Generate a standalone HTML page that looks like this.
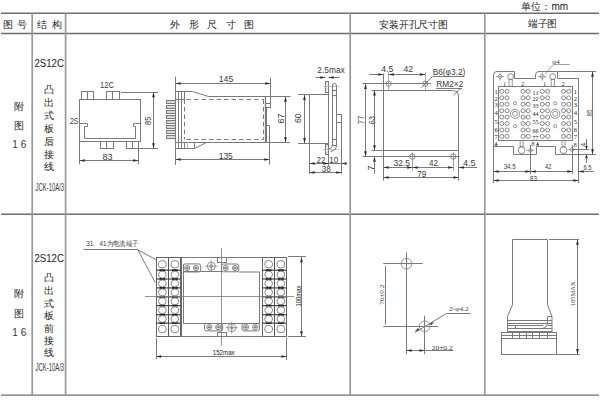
<!DOCTYPE html>
<html><head><meta charset="utf-8"><style>
html,body{margin:0;padding:0;background:#fff;width:600px;height:400px;overflow:hidden}
svg{display:block}
</style></head><body>
<svg width="600" height="400" viewBox="0 0 600 400" style="font-family:'Liberation Sans', sans-serif">
<line x1="1" y1="13.2" x2="599" y2="13.2" stroke="#6e6e6e" stroke-width="1.4"/>
<line x1="1" y1="33.5" x2="599" y2="33.5" stroke="#6e6e6e" stroke-width="1.4"/>
<line x1="1" y1="214.2" x2="599" y2="214.2" stroke="#6e6e6e" stroke-width="1.4"/>
<line x1="1" y1="395.1" x2="599" y2="395.1" stroke="#6e6e6e" stroke-width="1.4"/>
<line x1="32.2" y1="13.2" x2="32.2" y2="395.1" stroke="#999" stroke-width="1.7"/>
<line x1="65.6" y1="13.2" x2="65.6" y2="395.1" stroke="#999" stroke-width="1.7"/>
<line x1="350.2" y1="13.2" x2="350.2" y2="395.1" stroke="#999" stroke-width="1.7"/>
<line x1="484.8" y1="13.2" x2="484.8" y2="395.1" stroke="#999" stroke-width="1.7"/>
<text x="14.9" y="24.3" font-size="9.6" text-anchor="middle" dominant-baseline="central" fill="#222" font-family='"Liberation Sans", sans-serif' textLength="23.5" lengthAdjust="spacing" font-weight="500">图号</text>
<text x="49.3" y="24.3" font-size="9.6" text-anchor="middle" dominant-baseline="central" fill="#222" font-family='"Liberation Sans", sans-serif' textLength="24.5" lengthAdjust="spacing" font-weight="500">结构</text>
<text x="212.2" y="24.3" font-size="10" text-anchor="middle" dominant-baseline="central" fill="#222" font-family='"Liberation Sans", sans-serif' textLength="84" lengthAdjust="spacing" font-weight="500">外形尺寸图</text>
<text x="413.5" y="24" font-size="10" text-anchor="middle" dominant-baseline="central" fill="#222" font-family='"Liberation Sans", sans-serif' textLength="69" lengthAdjust="spacingAndGlyphs" font-weight="500">安装开孔尺寸图</text>
<text x="542.6" y="23.9" font-size="10" text-anchor="middle" dominant-baseline="central" fill="#222" font-family='"Liberation Sans", sans-serif' textLength="29.3" lengthAdjust="spacingAndGlyphs" font-weight="500">端子图</text>
<text x="544.7" y="6.4" font-size="10" text-anchor="middle" dominant-baseline="central" fill="#222" font-family='"Liberation Sans", sans-serif' textLength="47" lengthAdjust="spacingAndGlyphs" font-weight="500">单位：mm</text>
<text x="49.2" y="62.8" font-size="10.5" text-anchor="middle" dominant-baseline="central" fill="#222" font-family='"Liberation Sans", sans-serif' textLength="29.5" lengthAdjust="spacingAndGlyphs">2S12C</text>
<text x="19.25" y="106.25" font-size="10" text-anchor="middle" dominant-baseline="central" fill="#222" font-family='"Liberation Sans", sans-serif' font-weight="500">附</text>
<text x="19.25" y="125.4" font-size="10" text-anchor="middle" dominant-baseline="central" fill="#222" font-family='"Liberation Sans", sans-serif' font-weight="500">图</text>
<text x="19.25" y="144.1" font-size="11.5" text-anchor="middle" dominant-baseline="central" fill="#3a3a3a" font-family='"Liberation Sans", sans-serif' textLength="14" lengthAdjust="spacingAndGlyphs">1 6</text>
<text x="49.2" y="89.5" font-size="9.6" text-anchor="middle" dominant-baseline="central" fill="#222" font-family='"Liberation Sans", sans-serif' font-weight="500">凸</text>
<text x="49.2" y="102.25" font-size="9.6" text-anchor="middle" dominant-baseline="central" fill="#222" font-family='"Liberation Sans", sans-serif' font-weight="500">出</text>
<text x="49.2" y="115" font-size="9.6" text-anchor="middle" dominant-baseline="central" fill="#222" font-family='"Liberation Sans", sans-serif' font-weight="500">式</text>
<text x="49.2" y="128.4" font-size="9.6" text-anchor="middle" dominant-baseline="central" fill="#222" font-family='"Liberation Sans", sans-serif' font-weight="500">板</text>
<text x="49.2" y="141.3" font-size="9.6" text-anchor="middle" dominant-baseline="central" fill="#222" font-family='"Liberation Sans", sans-serif' font-weight="500">后</text>
<text x="49.2" y="154.2" font-size="9.6" text-anchor="middle" dominant-baseline="central" fill="#222" font-family='"Liberation Sans", sans-serif' font-weight="500">接</text>
<text x="49.2" y="166.9" font-size="9.6" text-anchor="middle" dominant-baseline="central" fill="#222" font-family='"Liberation Sans", sans-serif' font-weight="500">线</text>
<text x="49.8" y="187.4" font-size="10.2" text-anchor="middle" dominant-baseline="central" fill="#3a3a3a" font-family='"Liberation Sans", sans-serif' textLength="28.5" lengthAdjust="spacingAndGlyphs">JCK-10A/3</text>
<text x="49.2" y="257.7" font-size="10.5" text-anchor="middle" dominant-baseline="central" fill="#222" font-family='"Liberation Sans", sans-serif' textLength="29.5" lengthAdjust="spacingAndGlyphs">2S12C</text>
<text x="19.25" y="293.9" font-size="10" text-anchor="middle" dominant-baseline="central" fill="#222" font-family='"Liberation Sans", sans-serif' font-weight="500">附</text>
<text x="19.25" y="313" font-size="10" text-anchor="middle" dominant-baseline="central" fill="#222" font-family='"Liberation Sans", sans-serif' font-weight="500">图</text>
<text x="19.25" y="332.1" font-size="11.5" text-anchor="middle" dominant-baseline="central" fill="#3a3a3a" font-family='"Liberation Sans", sans-serif' textLength="14" lengthAdjust="spacingAndGlyphs">1 6</text>
<text x="49.2" y="277" font-size="9.6" text-anchor="middle" dominant-baseline="central" fill="#222" font-family='"Liberation Sans", sans-serif' font-weight="500">凸</text>
<text x="49.2" y="290.1" font-size="9.6" text-anchor="middle" dominant-baseline="central" fill="#222" font-family='"Liberation Sans", sans-serif' font-weight="500">出</text>
<text x="49.2" y="303" font-size="9.6" text-anchor="middle" dominant-baseline="central" fill="#222" font-family='"Liberation Sans", sans-serif' font-weight="500">式</text>
<text x="49.2" y="315.4" font-size="9.6" text-anchor="middle" dominant-baseline="central" fill="#222" font-family='"Liberation Sans", sans-serif' font-weight="500">板</text>
<text x="49.2" y="328" font-size="9.6" text-anchor="middle" dominant-baseline="central" fill="#222" font-family='"Liberation Sans", sans-serif' font-weight="500">前</text>
<text x="49.2" y="340.5" font-size="9.6" text-anchor="middle" dominant-baseline="central" fill="#222" font-family='"Liberation Sans", sans-serif' font-weight="500">接</text>
<text x="49.2" y="352.9" font-size="9.6" text-anchor="middle" dominant-baseline="central" fill="#222" font-family='"Liberation Sans", sans-serif' font-weight="500">线</text>
<text x="49.8" y="367.9" font-size="10.2" text-anchor="middle" dominant-baseline="central" fill="#3a3a3a" font-family='"Liberation Sans", sans-serif' textLength="28.5" lengthAdjust="spacingAndGlyphs">JCK-10A/3</text>
<rect x="79.5" y="99.5" width="61.00" height="42.00" fill="none" stroke="#7a7a7a" stroke-width="1"/>
<rect x="81.5" y="91.5" width="12.00" height="8.00" fill="none" stroke="#7a7a7a" stroke-width="1"/>
<line x1="87.5" y1="91.9" x2="87.5" y2="99.4" stroke="#7a7a7a" stroke-width="1"/>
<rect x="106.5" y="91.5" width="13.00" height="8.00" fill="none" stroke="#7a7a7a" stroke-width="1"/>
<line x1="112.5" y1="91.9" x2="112.5" y2="99.4" stroke="#7a7a7a" stroke-width="1"/>
<rect x="100.5" y="141.5" width="13.00" height="7.00" fill="none" stroke="#7a7a7a" stroke-width="1"/>
<line x1="106.5" y1="141.5" x2="106.5" y2="148.6" stroke="#7a7a7a" stroke-width="1"/>
<rect x="126.5" y="141.5" width="12.00" height="7.00" fill="none" stroke="#7a7a7a" stroke-width="1"/>
<line x1="132.5" y1="141.5" x2="132.5" y2="148.6" stroke="#7a7a7a" stroke-width="1"/>
<polyline points="79.5,123.5 87.5,123.5 87.5,126.5 84.5,126.5 84.5,138.5 135.5,138.5 135.5,126.5 133.5,126.5 133.5,123.5 140.5,123.5" fill="none" stroke="#7a7a7a" stroke-width="1"/>
<line x1="121" y1="92.5" x2="158" y2="92.5" stroke="#7a7a7a" stroke-width="1"/>
<line x1="139.4" y1="148.5" x2="158" y2="148.5" stroke="#7a7a7a" stroke-width="1"/>
<line x1="153.5" y1="92" x2="153.5" y2="148.5" stroke="#7a7a7a" stroke-width="1"/>
<polygon points="153.50,92.00 152.15,97.20 154.85,97.20" fill="#2a2a2a"/>
<polygon points="153.50,148.50 152.15,143.30 154.85,143.30" fill="#2a2a2a"/>
<text x="148.1" y="120.8" font-size="8.5" text-anchor="middle" dominant-baseline="central" fill="#3a3a3a" font-family='"Liberation Sans", sans-serif' transform="rotate(-90 148.1 120.8)" textLength="8.2" lengthAdjust="spacingAndGlyphs">85</text>
<line x1="79.5" y1="141.5" x2="79.5" y2="164.4" stroke="#7a7a7a" stroke-width="1"/>
<line x1="138.5" y1="148.6" x2="138.5" y2="164.4" stroke="#7a7a7a" stroke-width="1"/>
<line x1="79.6" y1="160.5" x2="138.4" y2="160.5" stroke="#7a7a7a" stroke-width="1"/>
<polygon points="79.60,160.50 84.80,159.15 84.80,161.85" fill="#2a2a2a"/>
<polygon points="138.40,160.50 133.20,159.15 133.20,161.85" fill="#2a2a2a"/>
<text x="107.4" y="157" font-size="9" text-anchor="middle" dominant-baseline="central" fill="#3a3a3a" font-family='"Liberation Sans", sans-serif'>83</text>
<text x="107.1" y="85.4" font-size="8.5" text-anchor="middle" dominant-baseline="central" fill="#3a3a3a" font-family='"Liberation Sans", sans-serif' textLength="14" lengthAdjust="spacingAndGlyphs">12C</text>
<text x="74.2" y="121.4" font-size="8.5" text-anchor="middle" dominant-baseline="central" fill="#3a3a3a" font-family='"Liberation Sans", sans-serif' textLength="8.5" lengthAdjust="spacingAndGlyphs">2S</text>
<line x1="175.5" y1="76.7" x2="175.5" y2="91.4" stroke="#7a7a7a" stroke-width="1"/>
<line x1="270.5" y1="77.7" x2="270.5" y2="97" stroke="#7a7a7a" stroke-width="1"/>
<line x1="175.5" y1="83.5" x2="270.5" y2="83.5" stroke="#7a7a7a" stroke-width="1"/>
<polygon points="175.50,83.50 180.70,82.15 180.70,84.85" fill="#2a2a2a"/>
<polygon points="270.50,83.50 265.30,82.15 265.30,84.85" fill="#2a2a2a"/>
<text x="226" y="78.5" font-size="9" text-anchor="middle" dominant-baseline="central" fill="#3a3a3a" font-family='"Liberation Sans", sans-serif' textLength="14.5" lengthAdjust="spacingAndGlyphs">145</text>
<line x1="175.5" y1="91.4" x2="175.5" y2="148.5" stroke="#7a7a7a" stroke-width="1"/>
<line x1="178.5" y1="91.4" x2="178.5" y2="148.5" stroke="#7a7a7a" stroke-width="1"/>
<line x1="181.5" y1="91.4" x2="181.5" y2="148.5" stroke="#7a7a7a" stroke-width="1"/>
<line x1="184.5" y1="91.4" x2="184.5" y2="99.5" stroke="#7a7a7a" stroke-width="1"/>
<line x1="184.5" y1="99.5" x2="184.5" y2="139.5" stroke="#7a7a7a" stroke-width="1" stroke-dasharray="4.5,3"/>
<line x1="184.5" y1="142.2" x2="184.5" y2="148.5" stroke="#7a7a7a" stroke-width="1"/>
<polyline points="175.5,91.5 192.5,91.5 208.5,96.5 290.5,96.5" fill="none" stroke="#7a7a7a" stroke-width="1"/>
<line x1="175.4" y1="99.5" x2="184.6" y2="99.5" stroke="#7a7a7a" stroke-width="1"/>
<line x1="186.5" y1="99.5" x2="263.5" y2="99.5" stroke="#7a7a7a" stroke-width="1" stroke-dasharray="4.5,3"/>
<line x1="186.5" y1="139.5" x2="263.5" y2="139.5" stroke="#7a7a7a" stroke-width="1" stroke-dasharray="4.5,3"/>
<line x1="263.5" y1="99.5" x2="263.5" y2="139.5" stroke="#7a7a7a" stroke-width="1" stroke-dasharray="4.5,3"/>
<rect x="166.5" y="100.5" width="9.00" height="3.00" fill="#d8d8d8" stroke="#7a7a7a" stroke-width="1"/>
<rect x="166.5" y="105.5" width="9.00" height="3.00" fill="#d8d8d8" stroke="#7a7a7a" stroke-width="1"/>
<rect x="166.5" y="110.5" width="9.00" height="3.00" fill="#d8d8d8" stroke="#7a7a7a" stroke-width="1"/>
<rect x="166.5" y="115.5" width="9.00" height="3.00" fill="#d8d8d8" stroke="#7a7a7a" stroke-width="1"/>
<rect x="166.5" y="120.5" width="9.00" height="3.00" fill="#d8d8d8" stroke="#7a7a7a" stroke-width="1"/>
<rect x="166.5" y="125.5" width="9.00" height="3.00" fill="#d8d8d8" stroke="#7a7a7a" stroke-width="1"/>
<rect x="166.5" y="130.5" width="9.00" height="3.00" fill="#d8d8d8" stroke="#7a7a7a" stroke-width="1"/>
<rect x="166.5" y="135.5" width="9.00" height="3.00" fill="#d8d8d8" stroke="#7a7a7a" stroke-width="1"/>
<line x1="175.4" y1="142.5" x2="290" y2="142.5" stroke="#7a7a7a" stroke-width="1"/>
<polyline points="175.5,148.5 194.5,148.5 194.5,142.5" fill="none" stroke="#7a7a7a" stroke-width="1"/>
<line x1="194.8" y1="148.4" x2="206.3" y2="142.5" stroke="#7a7a7a" stroke-width="1"/>
<line x1="187.5" y1="142.2" x2="187.5" y2="148.4" stroke="#bbb" stroke-width="1"/>
<rect x="265.5" y="96.5" width="5.00" height="11.00" fill="none" stroke="#7a7a7a" stroke-width="1"/>
<line x1="265.5" y1="103.5" x2="270.7" y2="103.5" stroke="#7a7a7a" stroke-width="1"/>
<line x1="265.5" y1="96.6" x2="265.5" y2="142.5" stroke="#7a7a7a" stroke-width="1.3"/>
<line x1="266.5" y1="107.3" x2="266.5" y2="142.5" stroke="#7a7a7a" stroke-width="1"/>
<polyline points="266.5,125.5 269.5,125.5 269.5,142.5" fill="none" stroke="#7a7a7a" stroke-width="1"/>
<line x1="269.5" y1="142.5" x2="269.5" y2="164.7" stroke="#7a7a7a" stroke-width="1"/>
<line x1="175.5" y1="148.5" x2="175.5" y2="165" stroke="#7a7a7a" stroke-width="1"/>
<line x1="175.5" y1="159.5" x2="269.5" y2="159.5" stroke="#7a7a7a" stroke-width="1"/>
<polygon points="175.50,159.50 180.70,158.15 180.70,160.85" fill="#2a2a2a"/>
<polygon points="269.50,159.50 264.30,158.15 264.30,160.85" fill="#2a2a2a"/>
<text x="225.8" y="155.9" font-size="9" text-anchor="middle" dominant-baseline="central" fill="#3a3a3a" font-family='"Liberation Sans", sans-serif' textLength="14" lengthAdjust="spacingAndGlyphs">135</text>
<line x1="285.5" y1="96.6" x2="285.5" y2="142.5" stroke="#7a7a7a" stroke-width="1"/>
<polygon points="285.50,96.60 284.15,101.80 286.85,101.80" fill="#2a2a2a"/>
<polygon points="285.50,142.50 284.15,137.30 286.85,137.30" fill="#2a2a2a"/>
<text x="280.5" y="118.5" font-size="9" text-anchor="middle" dominant-baseline="central" fill="#3a3a3a" font-family='"Liberation Sans", sans-serif' transform="rotate(-90 280.5 118.5)">67</text>
<text x="331" y="70" font-size="9" text-anchor="middle" dominant-baseline="central" fill="#3a3a3a" font-family='"Liberation Sans", sans-serif' textLength="27.5" lengthAdjust="spacingAndGlyphs">2.5max</text>
<line x1="315.5" y1="77.5" x2="325.2" y2="77.5" stroke="#7a7a7a" stroke-width="1"/>
<polygon points="325.50,77.50 320.30,76.15 320.30,78.85" fill="#2a2a2a"/>
<line x1="328.4" y1="77.5" x2="339.5" y2="77.5" stroke="#7a7a7a" stroke-width="1"/>
<polygon points="328.50,77.50 333.70,76.15 333.70,78.85" fill="#2a2a2a"/>
<polyline points="328.5,94.5 309.5,94.5 309.5,143.5 328.5,143.5" fill="none" stroke="#7a7a7a" stroke-width="1"/>
<line x1="328.5" y1="81" x2="328.5" y2="155" stroke="#7a7a7a" stroke-width="1"/>
<rect x="325.5" y="81.5" width="3.00" height="11.00" fill="none" stroke="#7a7a7a" stroke-width="1"/>
<rect x="325.5" y="144.5" width="3.00" height="10.00" fill="none" stroke="#7a7a7a" stroke-width="1"/>
<line x1="326" y1="84" x2="328" y2="82.5" stroke="#999" stroke-width="0.6"/>
<line x1="326" y1="87" x2="328" y2="85.5" stroke="#999" stroke-width="0.6"/>
<line x1="326" y1="90" x2="328" y2="88.5" stroke="#999" stroke-width="0.6"/>
<line x1="326" y1="147" x2="328" y2="145.5" stroke="#999" stroke-width="0.6"/>
<line x1="326" y1="150" x2="328" y2="148.5" stroke="#999" stroke-width="0.6"/>
<line x1="326" y1="153" x2="328" y2="151.5" stroke="#999" stroke-width="0.6"/>
<line x1="323.2" y1="86.5" x2="339" y2="86.5" stroke="#aaa" stroke-width="0.7"/>
<line x1="323.2" y1="149.5" x2="339" y2="149.5" stroke="#aaa" stroke-width="0.7"/>
<path d="M332.5,145 V86 Q332.5,83.4 334.3,83.4 Q336.5,83.4 336.5,86 V145 Q336.5,150.5 330.5,151.5 M332.5,145 Q332.5,148.5 328.5,149" fill="none" stroke="#7a7a7a" stroke-width="1"/>
<line x1="332.5" y1="90.5" x2="336.5" y2="90.5" stroke="#7a7a7a" stroke-width="1.2"/>
<line x1="332.5" y1="95.5" x2="336.5" y2="95.5" stroke="#7a7a7a" stroke-width="1.2"/>
<line x1="332.5" y1="139.5" x2="336.5" y2="139.5" stroke="#7a7a7a" stroke-width="1.2"/>
<line x1="332.5" y1="145.5" x2="336.5" y2="145.5" stroke="#7a7a7a" stroke-width="1.2"/>
<rect x="336.5" y="114.5" width="5.00" height="8.00" fill="none" stroke="#7a7a7a" stroke-width="1"/>
<line x1="341.5" y1="122" x2="341.5" y2="174" stroke="#7a7a7a" stroke-width="1"/>
<line x1="298.2" y1="94.5" x2="309.5" y2="94.5" stroke="#7a7a7a" stroke-width="1"/>
<line x1="298.2" y1="143.5" x2="309.5" y2="143.5" stroke="#7a7a7a" stroke-width="1"/>
<line x1="304.5" y1="94.7" x2="304.5" y2="143.2" stroke="#7a7a7a" stroke-width="1"/>
<polygon points="304.50,94.70 303.15,99.90 305.85,99.90" fill="#2a2a2a"/>
<polygon points="304.50,143.20 303.15,138.00 305.85,138.00" fill="#2a2a2a"/>
<text x="298.1" y="118.2" font-size="9" text-anchor="middle" dominant-baseline="central" fill="#3a3a3a" font-family='"Liberation Sans", sans-serif' transform="rotate(-90 298.1 118.2)" textLength="9.7" lengthAdjust="spacingAndGlyphs">60</text>
<line x1="309.5" y1="143" x2="309.5" y2="174" stroke="#7a7a7a" stroke-width="1"/>
<line x1="328.5" y1="155" x2="328.5" y2="166" stroke="#7a7a7a" stroke-width="1"/>
<line x1="309.5" y1="163.5" x2="328.5" y2="163.5" stroke="#7a7a7a" stroke-width="1"/>
<polygon points="309.50,163.50 314.70,162.15 314.70,164.85" fill="#2a2a2a"/>
<polygon points="328.50,163.50 323.30,162.15 323.30,164.85" fill="#2a2a2a"/>
<line x1="328.5" y1="163.5" x2="346" y2="163.5" stroke="#7a7a7a" stroke-width="1"/>
<polygon points="341.50,163.50 346.70,162.15 346.70,164.85" fill="#2a2a2a"/>
<text x="320.9" y="159.5" font-size="9" text-anchor="middle" dominant-baseline="central" fill="#3a3a3a" font-family='"Liberation Sans", sans-serif' textLength="9" lengthAdjust="spacingAndGlyphs">22</text>
<text x="333.7" y="159.5" font-size="9" text-anchor="middle" dominant-baseline="central" fill="#3a3a3a" font-family='"Liberation Sans", sans-serif' textLength="9" lengthAdjust="spacingAndGlyphs">10</text>
<line x1="309.5" y1="172.5" x2="341.5" y2="172.5" stroke="#7a7a7a" stroke-width="1"/>
<polygon points="309.50,172.50 314.70,171.15 314.70,173.85" fill="#2a2a2a"/>
<polygon points="341.50,172.50 336.30,171.15 336.30,173.85" fill="#2a2a2a"/>
<text x="326.3" y="169.3" font-size="9" text-anchor="middle" dominant-baseline="central" fill="#3a3a3a" font-family='"Liberation Sans", sans-serif' textLength="9" lengthAdjust="spacingAndGlyphs">38</text>
<line x1="383.5" y1="73.5" x2="383.5" y2="180.5" stroke="#7a7a7a" stroke-width="1"/>
<line x1="369.2" y1="74.5" x2="383.5" y2="74.5" stroke="#7a7a7a" stroke-width="1"/>
<polygon points="383.50,74.50 378.30,73.15 378.30,75.85" fill="#2a2a2a"/>
<line x1="388.7" y1="74.5" x2="425.2" y2="74.5" stroke="#7a7a7a" stroke-width="1"/>
<polygon points="388.70,74.50 393.90,73.15 393.90,75.85" fill="#2a2a2a"/>
<polygon points="425.20,74.50 420.00,73.15 420.00,75.85" fill="#2a2a2a"/>
<text x="387.2" y="68.5" font-size="9" text-anchor="middle" dominant-baseline="central" fill="#3a3a3a" font-family='"Liberation Sans", sans-serif' textLength="12" lengthAdjust="spacingAndGlyphs">4.5</text>
<text x="408.2" y="68.5" font-size="9" text-anchor="middle" dominant-baseline="central" fill="#3a3a3a" font-family='"Liberation Sans", sans-serif' textLength="9.5" lengthAdjust="spacingAndGlyphs">42</text>
<line x1="362.5" y1="83.5" x2="431" y2="83.5" stroke="#7a7a7a" stroke-width="1"/>
<circle cx="388.7" cy="83.7" r="2.6" fill="none" stroke="#7a7a7a" stroke-width="0.8"/>
<line x1="388.5" y1="72" x2="388.5" y2="90.4" stroke="#7a7a7a" stroke-width="0.6"/>
<circle cx="425.2" cy="83.7" r="2.6" fill="none" stroke="#7a7a7a" stroke-width="0.8"/>
<line x1="425.5" y1="72" x2="425.5" y2="90.4" stroke="#7a7a7a" stroke-width="0.6"/>
<polyline points="421.5,87.5 432.5,76.5 464.5,76.5" fill="none" stroke="#7a7a7a" stroke-width="1"/>
<text x="449" y="72" font-size="9" text-anchor="middle" dominant-baseline="central" fill="#3a3a3a" font-family='"Liberation Sans", sans-serif' textLength="32.5" lengthAdjust="spacingAndGlyphs">B6(φ3.2)</text>
<text x="449.8" y="83.8" font-size="9" text-anchor="middle" dominant-baseline="central" fill="#3a3a3a" font-family='"Liberation Sans", sans-serif' textLength="27" lengthAdjust="spacingAndGlyphs">RM2×2</text>
<line x1="436" y1="88.5" x2="462" y2="88.5" stroke="#7a7a7a" stroke-width="1"/>
<line x1="461" y1="88.2" x2="453.7" y2="95" stroke="#7a7a7a" stroke-width="1"/>
<path d="M371.5,90.5 H452.5 Q458.5,90.5 458.5,96.5 V150.5 H371.5" fill="none" stroke="#7a7a7a" stroke-width="1"/>
<line x1="365.5" y1="83.7" x2="365.5" y2="156.5" stroke="#7a7a7a" stroke-width="1"/>
<polygon points="365.50,83.70 364.15,88.90 366.85,88.90" fill="#2a2a2a"/>
<polygon points="365.50,156.50 364.15,151.30 366.85,151.30" fill="#2a2a2a"/>
<text x="360.8" y="120" font-size="9" text-anchor="middle" dominant-baseline="central" fill="#3a3a3a" font-family='"Liberation Sans", sans-serif' transform="rotate(-90 360.8 120)" textLength="9" lengthAdjust="spacingAndGlyphs">77</text>
<line x1="374.5" y1="90.4" x2="374.5" y2="150.5" stroke="#7a7a7a" stroke-width="1"/>
<polygon points="374.50,90.40 373.15,95.60 375.85,95.60" fill="#2a2a2a"/>
<polygon points="374.50,150.50 373.15,145.30 375.85,145.30" fill="#2a2a2a"/>
<text x="372" y="120.2" font-size="9" text-anchor="middle" dominant-baseline="central" fill="#3a3a3a" font-family='"Liberation Sans", sans-serif' transform="rotate(-90 372 120.2)" textLength="8.5" lengthAdjust="spacingAndGlyphs">63</text>
<line x1="362.5" y1="156.5" x2="459.7" y2="156.5" stroke="#7a7a7a" stroke-width="1"/>
<circle cx="412.4" cy="156.5" r="2.7" fill="none" stroke="#7a7a7a" stroke-width="0.9"/>
<line x1="412.5" y1="152.5" x2="412.5" y2="171" stroke="#7a7a7a" stroke-width="0.7"/>
<circle cx="453.3" cy="156.5" r="2.7" fill="none" stroke="#7a7a7a" stroke-width="0.9"/>
<line x1="453.5" y1="152.5" x2="453.5" y2="171" stroke="#7a7a7a" stroke-width="0.7"/>
<line x1="374.5" y1="156.5" x2="374.5" y2="173.7" stroke="#7a7a7a" stroke-width="1"/>
<polygon points="374.50,156.50 373.15,161.70 375.85,161.70" fill="#2a2a2a"/>
<text x="370.7" y="168" font-size="9" text-anchor="middle" dominant-baseline="central" fill="#3a3a3a" font-family='"Liberation Sans", sans-serif' transform="rotate(-90 370.7 168)">7</text>
<line x1="383.5" y1="167.5" x2="412.4" y2="167.5" stroke="#7a7a7a" stroke-width="1"/>
<polygon points="383.50,167.50 388.70,166.15 388.70,168.85" fill="#2a2a2a"/>
<polygon points="412.40,167.50 407.20,166.15 407.20,168.85" fill="#2a2a2a"/>
<line x1="412.4" y1="167.5" x2="453.3" y2="167.5" stroke="#7a7a7a" stroke-width="1"/>
<polygon points="412.40,167.50 417.60,166.15 417.60,168.85" fill="#2a2a2a"/>
<polygon points="453.30,167.50 448.10,166.15 448.10,168.85" fill="#2a2a2a"/>
<line x1="458.7" y1="167.5" x2="477" y2="167.5" stroke="#7a7a7a" stroke-width="1"/>
<polygon points="458.70,167.50 463.90,166.15 463.90,168.85" fill="#2a2a2a"/>
<text x="401.7" y="163.1" font-size="9" text-anchor="middle" dominant-baseline="central" fill="#3a3a3a" font-family='"Liberation Sans", sans-serif' textLength="16.5" lengthAdjust="spacingAndGlyphs">32.5</text>
<text x="433.4" y="163.1" font-size="9" text-anchor="middle" dominant-baseline="central" fill="#3a3a3a" font-family='"Liberation Sans", sans-serif' textLength="9" lengthAdjust="spacingAndGlyphs">42</text>
<text x="469.3" y="163.1" font-size="9" text-anchor="middle" dominant-baseline="central" fill="#3a3a3a" font-family='"Liberation Sans", sans-serif' textLength="12.5" lengthAdjust="spacingAndGlyphs">4.5</text>
<line x1="458.5" y1="150.5" x2="458.5" y2="180.5" stroke="#7a7a7a" stroke-width="1"/>
<line x1="383.5" y1="177.5" x2="458.7" y2="177.5" stroke="#7a7a7a" stroke-width="1"/>
<polygon points="383.50,177.50 388.70,176.15 388.70,178.85" fill="#2a2a2a"/>
<polygon points="458.70,177.50 453.50,176.15 453.50,178.85" fill="#2a2a2a"/>
<text x="421.8" y="173.6" font-size="9" text-anchor="middle" dominant-baseline="central" fill="#3a3a3a" font-family='"Liberation Sans", sans-serif' textLength="9" lengthAdjust="spacingAndGlyphs">79</text>
<path d="M493.5,183 V75 Q493.5,71.5 497,71.5 H514.5 V78.5 H535.5 V75 Q535.5,71.5 539,71.5 H557.5 V78.5 H578.5 V183" fill="none" stroke="#7a7a7a" stroke-width="1"/>
<path d="M493.5,146.5 H513.5 V154.5 H536.5 V146.5 H555.5 V154.5 H578.5" fill="none" stroke="#7a7a7a" stroke-width="1"/>
<rect x="498.5" y="86.5" width="74.00" height="54.00" fill="none" stroke="#7a7a7a" stroke-width="1"/>
<path d="M497.5,76.6 L500.1,74.0 L502.70000000000005,76.6 L500.1,79.19999999999999 Z" fill="none" stroke="#7a7a7a" stroke-width="0.8"/>
<line x1="495.90000000000003" y1="76.6" x2="504.3" y2="76.6" stroke="#7a7a7a" stroke-width="0.6"/>
<line x1="500.1" y1="72.39999999999999" x2="500.1" y2="80.8" stroke="#7a7a7a" stroke-width="0.6"/>
<path d="M539.6999999999999,76.6 L542.3,74.0 L544.9,76.6 L542.3,79.19999999999999 Z" fill="none" stroke="#7a7a7a" stroke-width="0.8"/>
<line x1="538.0999999999999" y1="76.6" x2="546.5" y2="76.6" stroke="#7a7a7a" stroke-width="0.6"/>
<line x1="542.3" y1="72.39999999999999" x2="542.3" y2="80.8" stroke="#7a7a7a" stroke-width="0.6"/>
<circle cx="510.6" cy="76.6" r="2.9" fill="none" stroke="#7a7a7a" stroke-width="0.9"/>
<rect x="509.0" y="79.5" width="3.20" height="6.80" fill="none" stroke="#7a7a7a" stroke-width="0.8"/>
<circle cx="552.7" cy="76.6" r="2.9" fill="none" stroke="#7a7a7a" stroke-width="0.9"/>
<rect x="551.1" y="79.5" width="3.20" height="6.80" fill="none" stroke="#7a7a7a" stroke-width="0.8"/>
<circle cx="521.6" cy="150.2" r="3.4" fill="none" stroke="#7a7a7a" stroke-width="0.9"/>
<rect x="520.1" y="140.6" width="3.00" height="6.10" fill="none" stroke="#7a7a7a" stroke-width="0.8"/>
<circle cx="563.5" cy="150.2" r="3.4" fill="none" stroke="#7a7a7a" stroke-width="0.9"/>
<rect x="562.0" y="140.6" width="3.00" height="6.10" fill="none" stroke="#7a7a7a" stroke-width="0.8"/>
<text x="504.5" y="83.5" font-size="6.5" text-anchor="middle" dominant-baseline="central" fill="#3a3a3a" font-family='"Liberation Serif", serif'>1</text>
<text x="522.5" y="83.5" font-size="6.5" text-anchor="middle" dominant-baseline="central" fill="#3a3a3a" font-family='"Liberation Serif", serif'>2</text>
<text x="544.6" y="83.5" font-size="6.5" text-anchor="middle" dominant-baseline="central" fill="#3a3a3a" font-family='"Liberation Serif", serif'>1</text>
<text x="563" y="83.5" font-size="6.5" text-anchor="middle" dominant-baseline="central" fill="#3a3a3a" font-family='"Liberation Serif", serif'>2</text>
<text x="556" y="62.3" font-size="7" text-anchor="middle" dominant-baseline="central" fill="#3a3a3a" font-family='"Liberation Serif", serif'>φ4</text>
<polyline points="545,74.3 553.3,64.5 569.8,64.5" fill="none" stroke="#7a7a7a" stroke-width="0.7"/>
<circle cx="501.8" cy="91.4" r="2.0" fill="none" stroke="#7a7a7a" stroke-width="0.9"/>
<circle cx="507.1" cy="91.4" r="2.0" fill="none" stroke="#7a7a7a" stroke-width="0.9"/>
<circle cx="523" cy="91.4" r="2.0" fill="none" stroke="#7a7a7a" stroke-width="0.9"/>
<circle cx="528.2" cy="91.4" r="2.0" fill="none" stroke="#7a7a7a" stroke-width="0.9"/>
<circle cx="542.2" cy="91.4" r="2.0" fill="none" stroke="#7a7a7a" stroke-width="0.9"/>
<circle cx="547.7" cy="91.4" r="2.0" fill="none" stroke="#7a7a7a" stroke-width="0.9"/>
<circle cx="563.5" cy="91.4" r="2.0" fill="none" stroke="#7a7a7a" stroke-width="0.9"/>
<circle cx="568.8" cy="91.4" r="2.0" fill="none" stroke="#7a7a7a" stroke-width="0.9"/>
<line x1="525" y1="91.4" x2="526.2" y2="91.4" stroke="#7a7a7a" stroke-width="0.8"/>
<line x1="544.2" y1="91.4" x2="545.7" y2="91.4" stroke="#7a7a7a" stroke-width="0.8"/>
<line x1="565.5" y1="91.4" x2="566.8" y2="91.4" stroke="#7a7a7a" stroke-width="0.8"/>
<circle cx="501.8" cy="97.83000000000001" r="2.0" fill="none" stroke="#7a7a7a" stroke-width="0.9"/>
<circle cx="507.1" cy="97.83000000000001" r="2.0" fill="none" stroke="#7a7a7a" stroke-width="0.9"/>
<circle cx="523" cy="97.83000000000001" r="2.0" fill="none" stroke="#7a7a7a" stroke-width="0.9"/>
<circle cx="528.2" cy="97.83000000000001" r="2.0" fill="none" stroke="#7a7a7a" stroke-width="0.9"/>
<circle cx="542.2" cy="97.83000000000001" r="2.0" fill="none" stroke="#7a7a7a" stroke-width="0.9"/>
<circle cx="547.7" cy="97.83000000000001" r="2.0" fill="none" stroke="#7a7a7a" stroke-width="0.9"/>
<circle cx="563.5" cy="97.83000000000001" r="2.0" fill="none" stroke="#7a7a7a" stroke-width="0.9"/>
<circle cx="568.8" cy="97.83000000000001" r="2.0" fill="none" stroke="#7a7a7a" stroke-width="0.9"/>
<line x1="525" y1="97.83000000000001" x2="526.2" y2="97.83000000000001" stroke="#7a7a7a" stroke-width="0.8"/>
<line x1="544.2" y1="97.83000000000001" x2="545.7" y2="97.83000000000001" stroke="#7a7a7a" stroke-width="0.8"/>
<line x1="565.5" y1="97.83000000000001" x2="566.8" y2="97.83000000000001" stroke="#7a7a7a" stroke-width="0.8"/>
<circle cx="501.8" cy="104.26" r="2.0" fill="none" stroke="#7a7a7a" stroke-width="0.9"/>
<circle cx="507.1" cy="104.26" r="2.0" fill="none" stroke="#7a7a7a" stroke-width="0.9"/>
<circle cx="523" cy="104.26" r="2.0" fill="none" stroke="#7a7a7a" stroke-width="0.9"/>
<circle cx="528.2" cy="104.26" r="2.0" fill="none" stroke="#7a7a7a" stroke-width="0.9"/>
<circle cx="542.2" cy="104.26" r="2.0" fill="none" stroke="#7a7a7a" stroke-width="0.9"/>
<circle cx="547.7" cy="104.26" r="2.0" fill="none" stroke="#7a7a7a" stroke-width="0.9"/>
<circle cx="563.5" cy="104.26" r="2.0" fill="none" stroke="#7a7a7a" stroke-width="0.9"/>
<circle cx="568.8" cy="104.26" r="2.0" fill="none" stroke="#7a7a7a" stroke-width="0.9"/>
<line x1="525" y1="104.26" x2="526.2" y2="104.26" stroke="#7a7a7a" stroke-width="0.8"/>
<line x1="544.2" y1="104.26" x2="545.7" y2="104.26" stroke="#7a7a7a" stroke-width="0.8"/>
<line x1="565.5" y1="104.26" x2="566.8" y2="104.26" stroke="#7a7a7a" stroke-width="0.8"/>
<circle cx="501.8" cy="110.69" r="2.0" fill="none" stroke="#7a7a7a" stroke-width="0.9"/>
<circle cx="507.1" cy="110.69" r="2.0" fill="none" stroke="#7a7a7a" stroke-width="0.9"/>
<circle cx="523" cy="110.69" r="2.0" fill="none" stroke="#7a7a7a" stroke-width="0.9"/>
<circle cx="528.2" cy="110.69" r="2.0" fill="none" stroke="#7a7a7a" stroke-width="0.9"/>
<circle cx="542.2" cy="110.69" r="2.0" fill="none" stroke="#7a7a7a" stroke-width="0.9"/>
<circle cx="547.7" cy="110.69" r="2.0" fill="none" stroke="#7a7a7a" stroke-width="0.9"/>
<circle cx="563.5" cy="110.69" r="2.0" fill="none" stroke="#7a7a7a" stroke-width="0.9"/>
<circle cx="568.8" cy="110.69" r="2.0" fill="none" stroke="#7a7a7a" stroke-width="0.9"/>
<line x1="525" y1="110.69" x2="526.2" y2="110.69" stroke="#7a7a7a" stroke-width="0.8"/>
<line x1="544.2" y1="110.69" x2="545.7" y2="110.69" stroke="#7a7a7a" stroke-width="0.8"/>
<line x1="565.5" y1="110.69" x2="566.8" y2="110.69" stroke="#7a7a7a" stroke-width="0.8"/>
<circle cx="501.8" cy="117.12" r="2.0" fill="none" stroke="#7a7a7a" stroke-width="0.9"/>
<circle cx="507.1" cy="117.12" r="2.0" fill="none" stroke="#7a7a7a" stroke-width="0.9"/>
<circle cx="523" cy="117.12" r="2.0" fill="none" stroke="#7a7a7a" stroke-width="0.9"/>
<circle cx="528.2" cy="117.12" r="2.0" fill="none" stroke="#7a7a7a" stroke-width="0.9"/>
<circle cx="542.2" cy="117.12" r="2.0" fill="none" stroke="#7a7a7a" stroke-width="0.9"/>
<circle cx="547.7" cy="117.12" r="2.0" fill="none" stroke="#7a7a7a" stroke-width="0.9"/>
<circle cx="563.5" cy="117.12" r="2.0" fill="none" stroke="#7a7a7a" stroke-width="0.9"/>
<circle cx="568.8" cy="117.12" r="2.0" fill="none" stroke="#7a7a7a" stroke-width="0.9"/>
<line x1="525" y1="117.12" x2="526.2" y2="117.12" stroke="#7a7a7a" stroke-width="0.8"/>
<line x1="544.2" y1="117.12" x2="545.7" y2="117.12" stroke="#7a7a7a" stroke-width="0.8"/>
<line x1="565.5" y1="117.12" x2="566.8" y2="117.12" stroke="#7a7a7a" stroke-width="0.8"/>
<circle cx="501.8" cy="123.55000000000001" r="2.0" fill="none" stroke="#7a7a7a" stroke-width="0.9"/>
<circle cx="507.1" cy="123.55000000000001" r="2.0" fill="none" stroke="#7a7a7a" stroke-width="0.9"/>
<circle cx="523" cy="123.55000000000001" r="2.0" fill="none" stroke="#7a7a7a" stroke-width="0.9"/>
<circle cx="528.2" cy="123.55000000000001" r="2.0" fill="none" stroke="#7a7a7a" stroke-width="0.9"/>
<circle cx="542.2" cy="123.55000000000001" r="2.0" fill="none" stroke="#7a7a7a" stroke-width="0.9"/>
<circle cx="547.7" cy="123.55000000000001" r="2.0" fill="none" stroke="#7a7a7a" stroke-width="0.9"/>
<circle cx="563.5" cy="123.55000000000001" r="2.0" fill="none" stroke="#7a7a7a" stroke-width="0.9"/>
<circle cx="568.8" cy="123.55000000000001" r="2.0" fill="none" stroke="#7a7a7a" stroke-width="0.9"/>
<line x1="525" y1="123.55000000000001" x2="526.2" y2="123.55000000000001" stroke="#7a7a7a" stroke-width="0.8"/>
<line x1="544.2" y1="123.55000000000001" x2="545.7" y2="123.55000000000001" stroke="#7a7a7a" stroke-width="0.8"/>
<line x1="565.5" y1="123.55000000000001" x2="566.8" y2="123.55000000000001" stroke="#7a7a7a" stroke-width="0.8"/>
<circle cx="501.8" cy="129.98000000000002" r="2.0" fill="none" stroke="#7a7a7a" stroke-width="0.9"/>
<circle cx="507.1" cy="129.98000000000002" r="2.0" fill="none" stroke="#7a7a7a" stroke-width="0.9"/>
<circle cx="523" cy="129.98000000000002" r="2.0" fill="none" stroke="#7a7a7a" stroke-width="0.9"/>
<circle cx="528.2" cy="129.98000000000002" r="2.0" fill="none" stroke="#7a7a7a" stroke-width="0.9"/>
<circle cx="542.2" cy="129.98000000000002" r="2.0" fill="none" stroke="#7a7a7a" stroke-width="0.9"/>
<circle cx="547.7" cy="129.98000000000002" r="2.0" fill="none" stroke="#7a7a7a" stroke-width="0.9"/>
<circle cx="563.5" cy="129.98000000000002" r="2.0" fill="none" stroke="#7a7a7a" stroke-width="0.9"/>
<circle cx="568.8" cy="129.98000000000002" r="2.0" fill="none" stroke="#7a7a7a" stroke-width="0.9"/>
<line x1="525" y1="129.98000000000002" x2="526.2" y2="129.98000000000002" stroke="#7a7a7a" stroke-width="0.8"/>
<line x1="544.2" y1="129.98000000000002" x2="545.7" y2="129.98000000000002" stroke="#7a7a7a" stroke-width="0.8"/>
<line x1="565.5" y1="129.98000000000002" x2="566.8" y2="129.98000000000002" stroke="#7a7a7a" stroke-width="0.8"/>
<circle cx="501.8" cy="136.41" r="2.0" fill="none" stroke="#7a7a7a" stroke-width="0.9"/>
<circle cx="507.1" cy="136.41" r="2.0" fill="none" stroke="#7a7a7a" stroke-width="0.9"/>
<circle cx="523" cy="136.41" r="2.0" fill="none" stroke="#7a7a7a" stroke-width="0.9"/>
<circle cx="528.2" cy="136.41" r="2.0" fill="none" stroke="#7a7a7a" stroke-width="0.9"/>
<circle cx="542.2" cy="136.41" r="2.0" fill="none" stroke="#7a7a7a" stroke-width="0.9"/>
<circle cx="547.7" cy="136.41" r="2.0" fill="none" stroke="#7a7a7a" stroke-width="0.9"/>
<circle cx="563.5" cy="136.41" r="2.0" fill="none" stroke="#7a7a7a" stroke-width="0.9"/>
<circle cx="568.8" cy="136.41" r="2.0" fill="none" stroke="#7a7a7a" stroke-width="0.9"/>
<line x1="525" y1="136.41" x2="526.2" y2="136.41" stroke="#7a7a7a" stroke-width="0.8"/>
<line x1="544.2" y1="136.41" x2="545.7" y2="136.41" stroke="#7a7a7a" stroke-width="0.8"/>
<line x1="565.5" y1="136.41" x2="566.8" y2="136.41" stroke="#7a7a7a" stroke-width="0.8"/>
<circle cx="515" cy="103.3" r="1.6" fill="none" stroke="#7a7a7a" stroke-width="0.8"/>
<circle cx="515" cy="126.2" r="1.6" fill="none" stroke="#7a7a7a" stroke-width="0.8"/>
<circle cx="515" cy="113.8" r="4.6" fill="none" stroke="#7a7a7a" stroke-width="0.8"/>
<circle cx="515" cy="113.8" r="2.5" fill="none" stroke="#7a7a7a" stroke-width="0.8"/>
<circle cx="555.2" cy="103.3" r="1.6" fill="none" stroke="#7a7a7a" stroke-width="0.8"/>
<circle cx="555.2" cy="126.2" r="1.6" fill="none" stroke="#7a7a7a" stroke-width="0.8"/>
<circle cx="555.2" cy="113.8" r="4.6" fill="none" stroke="#7a7a7a" stroke-width="0.8"/>
<circle cx="555.2" cy="113.8" r="2.5" fill="none" stroke="#7a7a7a" stroke-width="0.8"/>
<text x="496" y="91.4" font-size="6.5" text-anchor="middle" dominant-baseline="central" fill="#222" font-family='"Liberation Serif", serif'>1</text>
<text x="575.3" y="91.4" font-size="6.5" text-anchor="middle" dominant-baseline="central" fill="#222" font-family='"Liberation Serif", serif'>1</text>
<text x="535.6" y="92.0" font-size="6.5" text-anchor="middle" dominant-baseline="central" fill="#222" font-family='"Liberation Serif", serif' textLength="6" lengthAdjust="spacingAndGlyphs">11</text>
<text x="496" y="98" font-size="6.5" text-anchor="middle" dominant-baseline="central" fill="#222" font-family='"Liberation Serif", serif'>2</text>
<text x="575.3" y="98" font-size="6.5" text-anchor="middle" dominant-baseline="central" fill="#222" font-family='"Liberation Serif", serif'>2</text>
<text x="535.6" y="98.6" font-size="6.5" text-anchor="middle" dominant-baseline="central" fill="#222" font-family='"Liberation Serif", serif' textLength="6" lengthAdjust="spacingAndGlyphs">22</text>
<text x="496" y="104.5" font-size="6.5" text-anchor="middle" dominant-baseline="central" fill="#222" font-family='"Liberation Serif", serif'>3</text>
<text x="575.3" y="104.5" font-size="6.5" text-anchor="middle" dominant-baseline="central" fill="#222" font-family='"Liberation Serif", serif'>3</text>
<text x="535.6" y="105.1" font-size="6.5" text-anchor="middle" dominant-baseline="central" fill="#222" font-family='"Liberation Serif", serif' textLength="6" lengthAdjust="spacingAndGlyphs">33</text>
<text x="496" y="112.5" font-size="6.5" text-anchor="middle" dominant-baseline="central" fill="#222" font-family='"Liberation Serif", serif'>4</text>
<text x="575.3" y="112.5" font-size="6.5" text-anchor="middle" dominant-baseline="central" fill="#222" font-family='"Liberation Serif", serif'>4</text>
<text x="535.6" y="113.1" font-size="6.5" text-anchor="middle" dominant-baseline="central" fill="#222" font-family='"Liberation Serif", serif' textLength="6" lengthAdjust="spacingAndGlyphs">44</text>
<text x="496" y="121" font-size="6.5" text-anchor="middle" dominant-baseline="central" fill="#222" font-family='"Liberation Serif", serif'>5</text>
<text x="575.3" y="121" font-size="6.5" text-anchor="middle" dominant-baseline="central" fill="#222" font-family='"Liberation Serif", serif'>5</text>
<text x="535.6" y="121.6" font-size="6.5" text-anchor="middle" dominant-baseline="central" fill="#222" font-family='"Liberation Serif", serif' textLength="6" lengthAdjust="spacingAndGlyphs">55</text>
<text x="496" y="129.8" font-size="6.5" text-anchor="middle" dominant-baseline="central" fill="#222" font-family='"Liberation Serif", serif'>6</text>
<text x="575.3" y="129.8" font-size="6.5" text-anchor="middle" dominant-baseline="central" fill="#222" font-family='"Liberation Serif", serif'>6</text>
<text x="535.6" y="130.4" font-size="6.5" text-anchor="middle" dominant-baseline="central" fill="#222" font-family='"Liberation Serif", serif' textLength="6" lengthAdjust="spacingAndGlyphs">66</text>
<text x="496" y="136.4" font-size="6.5" text-anchor="middle" dominant-baseline="central" fill="#222" font-family='"Liberation Serif", serif'>7</text>
<text x="575.3" y="136.4" font-size="6.5" text-anchor="middle" dominant-baseline="central" fill="#222" font-family='"Liberation Serif", serif'>7</text>
<text x="535.6" y="137.0" font-size="6.5" text-anchor="middle" dominant-baseline="central" fill="#222" font-family='"Liberation Serif", serif' textLength="6" lengthAdjust="spacingAndGlyphs">77</text>
<polygon points="496.2,142.0 494.59999999999997,145.4 497.8,145.4" fill="#444"/>
<polygon points="537.7,142.0 536.1,145.4 539.3000000000001,145.4" fill="#444"/>
<text x="532.8" y="143.2" font-size="6.5" text-anchor="middle" dominant-baseline="central" fill="#3a3a3a" font-family='"Liberation Serif", serif'>8</text>
<text x="575" y="144.2" font-size="6.5" text-anchor="middle" dominant-baseline="central" fill="#3a3a3a" font-family='"Liberation Serif", serif'>8</text>
<path d="M528.0,150.4 L530.4,148.0 L532.8,150.4 L530.4,152.8 Z" fill="none" stroke="#7a7a7a" stroke-width="0.8"/>
<line x1="526.4" y1="150.4" x2="534.4" y2="150.4" stroke="#7a7a7a" stroke-width="0.6"/>
<line x1="530.5" y1="145" x2="530.5" y2="174" stroke="#7a7a7a" stroke-width="1"/>
<path d="M569.6,149.6 L572,147.2 L574.4,149.6 L572,152.0 Z" fill="none" stroke="#7a7a7a" stroke-width="0.8"/>
<line x1="568" y1="149.6" x2="576" y2="149.6" stroke="#7a7a7a" stroke-width="0.6"/>
<line x1="572.5" y1="145" x2="572.5" y2="174" stroke="#7a7a7a" stroke-width="1"/>
<line x1="493.5" y1="171.5" x2="530.5" y2="171.5" stroke="#7a7a7a" stroke-width="1"/>
<polygon points="493.50,171.50 498.70,170.15 498.70,172.85" fill="#2a2a2a"/>
<polygon points="530.50,171.50 525.30,170.15 525.30,172.85" fill="#2a2a2a"/>
<line x1="530.5" y1="171.5" x2="572.5" y2="171.5" stroke="#7a7a7a" stroke-width="1"/>
<polygon points="530.50,171.50 535.70,170.15 535.70,172.85" fill="#2a2a2a"/>
<polygon points="572.50,171.50 567.30,170.15 567.30,172.85" fill="#2a2a2a"/>
<line x1="578.5" y1="171.5" x2="593.8" y2="171.5" stroke="#7a7a7a" stroke-width="1"/>
<polygon points="578.50,171.50 583.70,170.15 583.70,172.85" fill="#2a2a2a"/>
<text x="509.7" y="166.9" font-size="7" text-anchor="middle" dominant-baseline="central" fill="#3a3a3a" font-family='"Liberation Sans", sans-serif' textLength="12" lengthAdjust="spacingAndGlyphs">34.5</text>
<text x="548.2" y="166.9" font-size="7" text-anchor="middle" dominant-baseline="central" fill="#3a3a3a" font-family='"Liberation Sans", sans-serif' textLength="6.5" lengthAdjust="spacingAndGlyphs">42</text>
<text x="587.4" y="167" font-size="7" text-anchor="middle" dominant-baseline="central" fill="#3a3a3a" font-family='"Liberation Sans", sans-serif' textLength="8" lengthAdjust="spacingAndGlyphs">6.5</text>
<line x1="493.5" y1="180.5" x2="578.5" y2="180.5" stroke="#7a7a7a" stroke-width="1"/>
<polygon points="493.50,180.50 498.70,179.15 498.70,181.85" fill="#2a2a2a"/>
<polygon points="578.50,180.50 573.30,179.15 573.30,181.85" fill="#2a2a2a"/>
<text x="533.5" y="178.1" font-size="7" text-anchor="middle" dominant-baseline="central" fill="#3a3a3a" font-family='"Liberation Sans", sans-serif' textLength="7" lengthAdjust="spacingAndGlyphs">83</text>
<line x1="557.5" y1="71.5" x2="596" y2="71.5" stroke="#7a7a7a" stroke-width="1"/>
<line x1="578.5" y1="154.5" x2="596" y2="154.5" stroke="#7a7a7a" stroke-width="1"/>
<line x1="592.5" y1="71.5" x2="592.5" y2="154.5" stroke="#7a7a7a" stroke-width="1"/>
<polygon points="592.50,71.50 591.15,76.70 593.85,76.70" fill="#2a2a2a"/>
<polygon points="592.50,154.50 591.15,149.30 593.85,149.30" fill="#2a2a2a"/>
<text x="589" y="113" font-size="7" text-anchor="middle" dominant-baseline="central" fill="#3a3a3a" font-family='"Liberation Sans", sans-serif' transform="rotate(-90 589 113)" textLength="7" lengthAdjust="spacingAndGlyphs">85</text>
<line x1="573" y1="149.5" x2="589" y2="149.5" stroke="#7a7a7a" stroke-width="1"/>
<line x1="586.5" y1="139" x2="586.5" y2="149.5" stroke="#7a7a7a" stroke-width="1"/>
<polygon points="586.50,149.50 585.15,146.00 587.85,146.00" fill="#2a2a2a"/>
<line x1="586.5" y1="154.5" x2="586.5" y2="163" stroke="#7a7a7a" stroke-width="1"/>
<polygon points="586.50,154.50 585.15,158.00 587.85,158.00" fill="#2a2a2a"/>
<text x="583.2" y="144.8" font-size="7" text-anchor="middle" dominant-baseline="central" fill="#3a3a3a" font-family='"Liberation Sans", sans-serif' transform="rotate(-90 583.2 144.8)">4</text>
<text x="112.2" y="243.2" font-size="7" text-anchor="middle" dominant-baseline="central" fill="#3a3a3a" font-family='"Liberation Sans", sans-serif' textLength="52" lengthAdjust="spacingAndGlyphs">31、41为电流端子</text>
<line x1="83.5" y1="249.5" x2="137.8" y2="249.5" stroke="#7a7a7a" stroke-width="1"/>
<line x1="137.8" y1="249.8" x2="156.2" y2="259.8" stroke="#7a7a7a" stroke-width="1"/>
<line x1="137.8" y1="249.8" x2="155.3" y2="282.5" stroke="#7a7a7a" stroke-width="1"/>
<rect x="156.5" y="257.5" width="24.00" height="79.00" fill="none" stroke="#666" stroke-width="1.0"/>
<line x1="168.5" y1="257.5" x2="168.5" y2="336.2" stroke="#555" stroke-width="1.0"/>
<line x1="156" y1="270.2" x2="181" y2="270.2" stroke="#444" stroke-width="1.2"/>
<rect x="159.55" y="269.30" width="5.6" height="1.8" fill="#222"/>
<rect x="172.05" y="269.30" width="5.6" height="1.8" fill="#222"/>
<line x1="156" y1="279" x2="181" y2="279" stroke="#444" stroke-width="1.2"/>
<rect x="159.55" y="278.10" width="5.6" height="1.8" fill="#222"/>
<rect x="172.05" y="278.10" width="5.6" height="1.8" fill="#222"/>
<line x1="156" y1="287.9" x2="181" y2="287.9" stroke="#444" stroke-width="1.2"/>
<rect x="159.55" y="287.00" width="5.6" height="1.8" fill="#222"/>
<rect x="172.05" y="287.00" width="5.6" height="1.8" fill="#222"/>
<line x1="156" y1="296.9" x2="181" y2="296.9" stroke="#444" stroke-width="1.2"/>
<rect x="159.55" y="296.00" width="5.6" height="1.8" fill="#222"/>
<rect x="172.05" y="296.00" width="5.6" height="1.8" fill="#222"/>
<line x1="156" y1="305.6" x2="181" y2="305.6" stroke="#444" stroke-width="1.2"/>
<rect x="159.55" y="304.70" width="5.6" height="1.8" fill="#222"/>
<rect x="172.05" y="304.70" width="5.6" height="1.8" fill="#222"/>
<line x1="156" y1="314.75" x2="181" y2="314.75" stroke="#444" stroke-width="1.2"/>
<rect x="159.55" y="313.85" width="5.6" height="1.8" fill="#222"/>
<rect x="172.05" y="313.85" width="5.6" height="1.8" fill="#222"/>
<line x1="156" y1="323.1" x2="181" y2="323.1" stroke="#444" stroke-width="1.2"/>
<rect x="159.55" y="322.20" width="5.6" height="1.8" fill="#222"/>
<rect x="172.05" y="322.20" width="5.6" height="1.8" fill="#222"/>
<ellipse cx="162.35" cy="264.25" rx="4.0" ry="3.8" fill="none" stroke="#7a7a7a" stroke-width="0.9"/>
<ellipse cx="174.85" cy="264.25" rx="4.0" ry="3.8" fill="none" stroke="#7a7a7a" stroke-width="0.9"/>
<ellipse cx="162.35" cy="274.60" rx="3.9" ry="3.5" fill="none" stroke="#7a7a7a" stroke-width="0.9"/>
<ellipse cx="174.85" cy="274.60" rx="3.9" ry="3.5" fill="none" stroke="#7a7a7a" stroke-width="0.9"/>
<ellipse cx="162.35" cy="283.45" rx="3.9" ry="3.5" fill="none" stroke="#7a7a7a" stroke-width="0.9"/>
<ellipse cx="174.85" cy="283.45" rx="3.9" ry="3.5" fill="none" stroke="#7a7a7a" stroke-width="0.9"/>
<ellipse cx="162.35" cy="292.40" rx="3.9" ry="3.5" fill="none" stroke="#7a7a7a" stroke-width="0.9"/>
<ellipse cx="174.85" cy="292.40" rx="3.9" ry="3.5" fill="none" stroke="#7a7a7a" stroke-width="0.9"/>
<ellipse cx="162.35" cy="301.25" rx="3.9" ry="3.5" fill="none" stroke="#7a7a7a" stroke-width="0.9"/>
<ellipse cx="174.85" cy="301.25" rx="3.9" ry="3.5" fill="none" stroke="#7a7a7a" stroke-width="0.9"/>
<ellipse cx="162.35" cy="310.18" rx="3.9" ry="3.5" fill="none" stroke="#7a7a7a" stroke-width="0.9"/>
<ellipse cx="174.85" cy="310.18" rx="3.9" ry="3.5" fill="none" stroke="#7a7a7a" stroke-width="0.9"/>
<ellipse cx="162.35" cy="318.93" rx="3.9" ry="3.5" fill="none" stroke="#7a7a7a" stroke-width="0.9"/>
<ellipse cx="174.85" cy="318.93" rx="3.9" ry="3.5" fill="none" stroke="#7a7a7a" stroke-width="0.9"/>
<ellipse cx="162.35" cy="329.05" rx="4.0" ry="3.8" fill="none" stroke="#7a7a7a" stroke-width="0.9"/>
<ellipse cx="174.85" cy="329.05" rx="4.0" ry="3.8" fill="none" stroke="#7a7a7a" stroke-width="0.9"/>
<rect x="262.5" y="257.5" width="24.00" height="79.00" fill="none" stroke="#666" stroke-width="1.0"/>
<line x1="274.5" y1="257.5" x2="274.5" y2="336.2" stroke="#555" stroke-width="1.0"/>
<line x1="262.2" y1="270.2" x2="286.7" y2="270.2" stroke="#444" stroke-width="1.2"/>
<rect x="265.85" y="269.30" width="5.6" height="1.8" fill="#222"/>
<rect x="278.10" y="269.30" width="5.6" height="1.8" fill="#222"/>
<line x1="262.2" y1="279" x2="286.7" y2="279" stroke="#444" stroke-width="1.2"/>
<rect x="265.85" y="278.10" width="5.6" height="1.8" fill="#222"/>
<rect x="278.10" y="278.10" width="5.6" height="1.8" fill="#222"/>
<line x1="262.2" y1="287.9" x2="286.7" y2="287.9" stroke="#444" stroke-width="1.2"/>
<rect x="265.85" y="287.00" width="5.6" height="1.8" fill="#222"/>
<rect x="278.10" y="287.00" width="5.6" height="1.8" fill="#222"/>
<line x1="262.2" y1="296.9" x2="286.7" y2="296.9" stroke="#444" stroke-width="1.2"/>
<rect x="265.85" y="296.00" width="5.6" height="1.8" fill="#222"/>
<rect x="278.10" y="296.00" width="5.6" height="1.8" fill="#222"/>
<line x1="262.2" y1="305.6" x2="286.7" y2="305.6" stroke="#444" stroke-width="1.2"/>
<rect x="265.85" y="304.70" width="5.6" height="1.8" fill="#222"/>
<rect x="278.10" y="304.70" width="5.6" height="1.8" fill="#222"/>
<line x1="262.2" y1="314.75" x2="286.7" y2="314.75" stroke="#444" stroke-width="1.2"/>
<rect x="265.85" y="313.85" width="5.6" height="1.8" fill="#222"/>
<rect x="278.10" y="313.85" width="5.6" height="1.8" fill="#222"/>
<line x1="262.2" y1="323.1" x2="286.7" y2="323.1" stroke="#444" stroke-width="1.2"/>
<rect x="265.85" y="322.20" width="5.6" height="1.8" fill="#222"/>
<rect x="278.10" y="322.20" width="5.6" height="1.8" fill="#222"/>
<ellipse cx="268.65" cy="264.25" rx="4.0" ry="3.8" fill="none" stroke="#7a7a7a" stroke-width="0.9"/>
<ellipse cx="280.90" cy="264.25" rx="4.0" ry="3.8" fill="none" stroke="#7a7a7a" stroke-width="0.9"/>
<ellipse cx="268.65" cy="274.60" rx="3.9" ry="3.5" fill="none" stroke="#7a7a7a" stroke-width="0.9"/>
<ellipse cx="280.90" cy="274.60" rx="3.9" ry="3.5" fill="none" stroke="#7a7a7a" stroke-width="0.9"/>
<ellipse cx="268.65" cy="283.45" rx="3.9" ry="3.5" fill="none" stroke="#7a7a7a" stroke-width="0.9"/>
<ellipse cx="280.90" cy="283.45" rx="3.9" ry="3.5" fill="none" stroke="#7a7a7a" stroke-width="0.9"/>
<ellipse cx="268.65" cy="292.40" rx="3.9" ry="3.5" fill="none" stroke="#7a7a7a" stroke-width="0.9"/>
<ellipse cx="280.90" cy="292.40" rx="3.9" ry="3.5" fill="none" stroke="#7a7a7a" stroke-width="0.9"/>
<ellipse cx="268.65" cy="301.25" rx="3.9" ry="3.5" fill="none" stroke="#7a7a7a" stroke-width="0.9"/>
<ellipse cx="280.90" cy="301.25" rx="3.9" ry="3.5" fill="none" stroke="#7a7a7a" stroke-width="0.9"/>
<ellipse cx="268.65" cy="310.18" rx="3.9" ry="3.5" fill="none" stroke="#7a7a7a" stroke-width="0.9"/>
<ellipse cx="280.90" cy="310.18" rx="3.9" ry="3.5" fill="none" stroke="#7a7a7a" stroke-width="0.9"/>
<ellipse cx="268.65" cy="318.93" rx="3.9" ry="3.5" fill="none" stroke="#7a7a7a" stroke-width="0.9"/>
<ellipse cx="280.90" cy="318.93" rx="3.9" ry="3.5" fill="none" stroke="#7a7a7a" stroke-width="0.9"/>
<ellipse cx="268.65" cy="329.05" rx="4.0" ry="3.8" fill="none" stroke="#7a7a7a" stroke-width="0.9"/>
<ellipse cx="280.90" cy="329.05" rx="4.0" ry="3.8" fill="none" stroke="#7a7a7a" stroke-width="0.9"/>
<line x1="181" y1="257.5" x2="262.2" y2="257.5" stroke="#7a7a7a" stroke-width="1.0"/>
<line x1="181" y1="336.5" x2="262.2" y2="336.5" stroke="#7a7a7a" stroke-width="1.0"/>
<line x1="181.3" y1="257.2" x2="181.3" y2="336.2" stroke="#666" stroke-width="1.3"/>
<path d="M183.5,264.2 V323.5 H259.5 V272 H238.5" fill="none" stroke="#7a7a7a" stroke-width="1"/>
<line x1="200.2" y1="271.5" x2="222" y2="271.5" stroke="#7a7a7a" stroke-width="1"/>
<line x1="183.75" y1="271.5" x2="200.2" y2="271.5" stroke="#7a7a7a" stroke-width="1"/>
<rect x="183.4" y="263.9" width="17.30" height="8.10" rx="2" fill="none" stroke="#7a7a7a" stroke-width="1"/>
<rect x="221.5" y="264" width="17.30" height="7.80" rx="2" fill="none" stroke="#7a7a7a" stroke-width="1"/>
<circle cx="187.2" cy="268" r="2.6" fill="none" stroke="#7a7a7a" stroke-width="0.9"/>
<line x1="185.6" y1="268" x2="188.79999999999998" y2="268" stroke="#444" stroke-width="1.1"/>
<line x1="187.2" y1="265.4" x2="187.2" y2="270.6" stroke="#7a7a7a" stroke-width="0.6"/>
<circle cx="196" cy="268" r="2.6" fill="none" stroke="#7a7a7a" stroke-width="0.9"/>
<line x1="194.4" y1="268" x2="197.6" y2="268" stroke="#444" stroke-width="1.1"/>
<line x1="196" y1="265.4" x2="196" y2="270.6" stroke="#7a7a7a" stroke-width="0.6"/>
<circle cx="225.7" cy="268" r="2.6" fill="none" stroke="#7a7a7a" stroke-width="0.9"/>
<line x1="224.1" y1="268" x2="227.29999999999998" y2="268" stroke="#444" stroke-width="1.1"/>
<line x1="225.7" y1="265.4" x2="225.7" y2="270.6" stroke="#7a7a7a" stroke-width="0.6"/>
<circle cx="235" cy="268" r="2.6" fill="none" stroke="#7a7a7a" stroke-width="0.9"/>
<line x1="233.4" y1="268" x2="236.6" y2="268" stroke="#444" stroke-width="1.1"/>
<line x1="235" y1="265.4" x2="235" y2="270.6" stroke="#7a7a7a" stroke-width="0.6"/>
<rect x="204.5" y="323.5" width="18.20" height="7.40" rx="2" fill="none" stroke="#7a7a7a" stroke-width="1"/>
<rect x="242" y="323.5" width="17.50" height="7.40" rx="2" fill="none" stroke="#7a7a7a" stroke-width="1"/>
<circle cx="209.3" cy="327.1" r="2.6" fill="none" stroke="#7a7a7a" stroke-width="0.9"/>
<line x1="207.70000000000002" y1="327.1" x2="210.9" y2="327.1" stroke="#444" stroke-width="1.1"/>
<line x1="209.3" y1="324.5" x2="209.3" y2="329.70000000000005" stroke="#7a7a7a" stroke-width="0.6"/>
<circle cx="218.2" cy="327.1" r="2.6" fill="none" stroke="#7a7a7a" stroke-width="0.9"/>
<line x1="216.6" y1="327.1" x2="219.79999999999998" y2="327.1" stroke="#444" stroke-width="1.1"/>
<line x1="218.2" y1="324.5" x2="218.2" y2="329.70000000000005" stroke="#7a7a7a" stroke-width="0.6"/>
<circle cx="246" cy="327.1" r="2.6" fill="none" stroke="#7a7a7a" stroke-width="0.9"/>
<line x1="244.4" y1="327.1" x2="247.6" y2="327.1" stroke="#444" stroke-width="1.1"/>
<line x1="246" y1="324.5" x2="246" y2="329.70000000000005" stroke="#7a7a7a" stroke-width="0.6"/>
<circle cx="255.2" cy="327.1" r="2.6" fill="none" stroke="#7a7a7a" stroke-width="0.9"/>
<line x1="253.6" y1="327.1" x2="256.8" y2="327.1" stroke="#444" stroke-width="1.1"/>
<line x1="255.2" y1="324.5" x2="255.2" y2="329.70000000000005" stroke="#7a7a7a" stroke-width="0.6"/>
<circle cx="211.3" cy="266.2" r="4.0" fill="none" stroke="#7a7a7a" stroke-width="0.8"/>
<circle cx="211.3" cy="266.2" r="1.5" fill="none" stroke="#7a7a7a" stroke-width="0.7"/>
<line x1="205.10000000000002" y1="266.2" x2="217.5" y2="266.2" stroke="#7a7a7a" stroke-width="0.7"/>
<line x1="211.3" y1="260.2" x2="211.3" y2="272.2" stroke="#7a7a7a" stroke-width="0.7"/>
<circle cx="231.7" cy="327.7" r="4.0" fill="none" stroke="#7a7a7a" stroke-width="0.8"/>
<circle cx="231.7" cy="327.7" r="1.5" fill="none" stroke="#7a7a7a" stroke-width="0.7"/>
<line x1="225.5" y1="327.7" x2="237.89999999999998" y2="327.7" stroke="#7a7a7a" stroke-width="0.7"/>
<line x1="231.7" y1="321.7" x2="231.7" y2="333.7" stroke="#7a7a7a" stroke-width="0.7"/>
<rect x="217.5" y="257.5" width="9.00" height="5.00" fill="none" stroke="#7a7a7a" stroke-width="1"/>
<rect x="217.5" y="332.5" width="9.00" height="4.00" fill="none" stroke="#7a7a7a" stroke-width="1"/>
<line x1="221.5" y1="248" x2="221.5" y2="345.7" stroke="#7a7a7a" stroke-width="0.8"/>
<line x1="145" y1="296.5" x2="294" y2="296.5" stroke="#7a7a7a" stroke-width="0.8"/>
<line x1="288" y1="256.5" x2="306" y2="256.5" stroke="#7a7a7a" stroke-width="1"/>
<line x1="288" y1="336.5" x2="306" y2="336.5" stroke="#7a7a7a" stroke-width="1"/>
<line x1="301.5" y1="257" x2="301.5" y2="336.4" stroke="#7a7a7a" stroke-width="1"/>
<polygon points="301.50,257.00 300.15,262.20 302.85,262.20" fill="#2a2a2a"/>
<polygon points="301.50,336.40 300.15,331.20 302.85,331.20" fill="#2a2a2a"/>
<text x="298.2" y="296.1" font-size="6.5" text-anchor="middle" dominant-baseline="central" fill="#222" font-family='"Liberation Sans", sans-serif' transform="rotate(-90 298.2 296.1)" textLength="21" lengthAdjust="spacingAndGlyphs">100max</text>
<line x1="156.5" y1="338" x2="156.5" y2="359" stroke="#7a7a7a" stroke-width="1"/>
<line x1="286.5" y1="338" x2="286.5" y2="360" stroke="#7a7a7a" stroke-width="1"/>
<line x1="156" y1="356.5" x2="286.7" y2="356.5" stroke="#7a7a7a" stroke-width="1"/>
<polygon points="156.00,356.50 161.20,355.15 161.20,357.85" fill="#2a2a2a"/>
<polygon points="286.70,356.50 281.50,355.15 281.50,357.85" fill="#2a2a2a"/>
<text x="223.7" y="352.4" font-size="6.5" text-anchor="middle" dominant-baseline="central" fill="#222" font-family='"Liberation Sans", sans-serif' textLength="22" lengthAdjust="spacingAndGlyphs">152max</text>
<circle cx="406.5" cy="263.7" r="5.3" fill="none" stroke="#7a7a7a" stroke-width="0.8"/>
<line x1="383.2" y1="263.5" x2="422.7" y2="263.5" stroke="#7a7a7a" stroke-width="1"/>
<line x1="406.5" y1="252.5" x2="406.5" y2="354.2" stroke="#7a7a7a" stroke-width="1"/>
<line x1="385.5" y1="266" x2="385.5" y2="324.7" stroke="#7a7a7a" stroke-width="1"/>
<text x="382.1" y="294.7" font-size="7" text-anchor="middle" dominant-baseline="central" fill="#3a3a3a" font-family='"Liberation Serif", serif' transform="rotate(-90 382.1 294.7)" textLength="20.3" lengthAdjust="spacingAndGlyphs">76±0.2</text>
<line x1="383.3" y1="326.5" x2="438.3" y2="326.5" stroke="#7a7a7a" stroke-width="1"/>
<circle cx="424.7" cy="326.3" r="5.3" fill="none" stroke="#7a7a7a" stroke-width="0.8"/>
<line x1="424.5" y1="315.8" x2="424.5" y2="354.2" stroke="#7a7a7a" stroke-width="1"/>
<line x1="415" y1="332.5" x2="446.7" y2="313.3" stroke="#7a7a7a" stroke-width="1"/>
<polygon points="419.2,329.9 414.9,331.2 418.1,328.1" fill="#333"/>
<polygon points="429.9,323.5 434.3,322.1 431.0,325.2" fill="#333"/>
<polyline points="446.5,313.5 470.5,313.5" fill="none" stroke="#7a7a7a" stroke-width="1"/>
<text x="458.8" y="309" font-size="7" text-anchor="middle" dominant-baseline="central" fill="#3a3a3a" font-family='"Liberation Serif", serif' textLength="19.5" lengthAdjust="spacingAndGlyphs">2-φ4.2</text>
<line x1="406.5" y1="350.5" x2="424.7" y2="350.5" stroke="#7a7a7a" stroke-width="1"/>
<polygon points="406.50,350.50 411.70,349.15 411.70,351.85" fill="#2a2a2a"/>
<polygon points="424.70,350.50 419.50,349.15 419.50,351.85" fill="#2a2a2a"/>
<line x1="424.7" y1="350.5" x2="453.3" y2="350.5" stroke="#7a7a7a" stroke-width="1"/>
<text x="442.2" y="348.2" font-size="7" text-anchor="middle" dominant-baseline="central" fill="#3a3a3a" font-family='"Liberation Serif", serif' textLength="21" lengthAdjust="spacingAndGlyphs">20±0.2</text>
<path d="M512.5,304.8 V239.5 H547.5 V304.8 L552,316.5 V332.5 M512.5,304.8 L507.5,316.5 V332.5" fill="none" stroke="#7a7a7a" stroke-width="1"/>
<line x1="507.5" y1="320.5" x2="552" y2="320.5" stroke="#7a7a7a" stroke-width="1"/>
<line x1="507.5" y1="323.5" x2="552" y2="323.5" stroke="#7a7a7a" stroke-width="1"/>
<line x1="507.5" y1="328.5" x2="552" y2="328.5" stroke="#7a7a7a" stroke-width="1"/>
<line x1="507.5" y1="331.5" x2="552" y2="331.5" stroke="#7a7a7a" stroke-width="1"/>
<line x1="515.4" y1="325.5" x2="543" y2="325.5" stroke="#7a7a7a" stroke-width="1"/>
<line x1="507.5" y1="325.5" x2="515.4" y2="325.5" stroke="#7a7a7a" stroke-width="1"/>
<line x1="515.5" y1="325.9" x2="515.5" y2="328.8" stroke="#7a7a7a" stroke-width="1"/>
<line x1="547.5" y1="316.5" x2="552" y2="316.5" stroke="#7a7a7a" stroke-width="1"/>
<line x1="547.5" y1="317" x2="547.5" y2="323.5" stroke="#7a7a7a" stroke-width="1"/>
<path d="M543,328.5 Q545.5,328.5 547.5,323.5" fill="none" stroke="#7a7a7a" stroke-width="1"/>
<line x1="547.5" y1="325.5" x2="552" y2="325.5" stroke="#7a7a7a" stroke-width="1"/>
<rect x="501.5" y="332.5" width="55.00" height="22.00" fill="none" stroke="#7a7a7a" stroke-width="1"/>
<line x1="501.6" y1="335.5" x2="556.9" y2="335.5" stroke="#7a7a7a" stroke-width="1"/>
<line x1="501.6" y1="338.5" x2="556.9" y2="338.5" stroke="#7a7a7a" stroke-width="1"/>
<line x1="512.5" y1="332.4" x2="512.5" y2="338.9" stroke="#7a7a7a" stroke-width="1"/>
<line x1="519.5" y1="332.4" x2="519.5" y2="338.9" stroke="#7a7a7a" stroke-width="1"/>
<line x1="526.5" y1="332.4" x2="526.5" y2="338.9" stroke="#7a7a7a" stroke-width="1"/>
<line x1="532.5" y1="332.4" x2="532.5" y2="338.9" stroke="#7a7a7a" stroke-width="1"/>
<line x1="539.5" y1="332.4" x2="539.5" y2="338.9" stroke="#7a7a7a" stroke-width="1"/>
<line x1="547.5" y1="332.4" x2="547.5" y2="338.9" stroke="#7a7a7a" stroke-width="1"/>
<line x1="549" y1="239.5" x2="579" y2="239.5" stroke="#7a7a7a" stroke-width="1"/>
<line x1="556.9" y1="354.5" x2="580" y2="354.5" stroke="#7a7a7a" stroke-width="1"/>
<line x1="577.5" y1="239.5" x2="577.5" y2="354.3" stroke="#7a7a7a" stroke-width="1"/>
<polygon points="577.50,239.50 576.15,244.70 578.85,244.70" fill="#2a2a2a"/>
<polygon points="577.50,354.30 576.15,349.10 578.85,349.10" fill="#2a2a2a"/>
<text x="572.4" y="293.8" font-size="6.5" text-anchor="middle" dominant-baseline="central" fill="#3a3a3a" font-family='"Liberation Serif", serif' transform="rotate(-90 572.4 293.8)" textLength="25" lengthAdjust="spacingAndGlyphs">185MAX</text>
</svg>
</body></html>
